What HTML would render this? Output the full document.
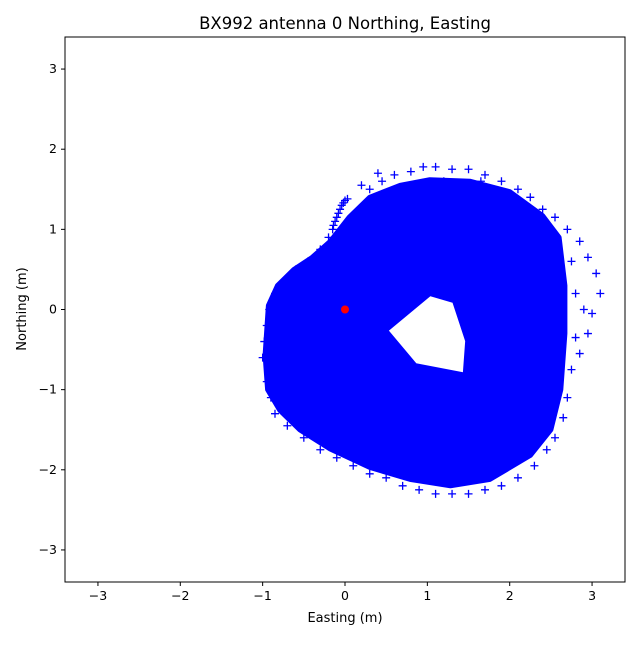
<!DOCTYPE html>
<html><head><meta charset="utf-8"><style>
body{margin:0;background:#fff;font-family:"Liberation Sans","DejaVu Sans",sans-serif}
svg text{font-family:"DejaVu Sans","Liberation Sans",sans-serif}
</style></head><body>
<svg id="chart" width="640" height="640" xmlns="http://www.w3.org/2000/svg">
<rect width="640" height="640" fill="#fff"/>
<g id="plot"></g>
<rect x="65" y="37" width="560" height="545" fill="none" stroke="#000" stroke-width="1"/>
<g id="axes"></g>
<text x="345" y="29" text-anchor="middle" font-size="16.5">BX992 antenna 0 Northing, Easting</text>
<text x="345" y="622" text-anchor="middle" font-size="13">Easting (m)</text>
<text x="26" y="309" text-anchor="middle" font-size="13" transform="rotate(-90 26 309)">Northing (m)</text>
</svg>
<script>
const xTicks=[-3,-2,-1,0,1,2,3];
const yTicks=[-3,-2,-1,0,1,2,3];
const outerE=[-0.97,-0.93,-0.82,-0.62,-0.40,-0.18,0.05,0.30,0.67,1.03,1.52,2.00,2.40,2.60,2.67,2.67,2.62,2.50,2.25,1.76,1.28,0.79,0.30,-0.18,-0.55,-0.79,-0.94];
const outerN=[-0.57,0.05,0.30,0.50,0.65,0.85,1.15,1.40,1.55,1.62,1.60,1.47,1.17,0.90,0.30,-0.30,-1.00,-1.50,-1.82,-2.12,-2.20,-2.12,-1.97,-1.74,-1.50,-1.26,-1.00];
const holeE=[1.03,0.49,0.85,1.46,1.49,1.33];
const holeN=[0.20,-0.26,-0.70,-0.82,-0.39,0.11];
const fringeE=[3.1,3.05,2.95,2.85,2.7,3.0,2.95,2.85,2.75,2.9,2.8,2.75,2.8,2.7,2.65,2.55,2.45,
2.55,2.4,2.25,2.1,1.9,1.7,1.5,1.3,1.1,0.95,0.8,0.6,0.45,0.3,0.2,0.4,1.2,1.65,
2.3,2.1,1.9,1.7,1.5,1.3,1.1,0.9,0.7,0.5,0.3,0.1,-0.1,-0.3,-0.5,-0.7,-0.85,
-0.9,-0.95,-1.0,-0.98,-0.95,-0.92,-0.85,-0.75,-0.6,-0.45,-0.3,-0.2,
-0.15,-0.12,-0.08,-0.04,0,0.03,-0.14,-0.1,-0.06,-0.02];
const fringeN=[0.2,0.45,0.65,0.85,1.0,-0.05,-0.3,-0.55,-0.75,0.0,-0.35,0.6,0.2,-1.1,-1.35,-1.6,-1.75,
1.15,1.25,1.4,1.5,1.6,1.68,1.75,1.75,1.78,1.78,1.72,1.68,1.6,1.5,1.55,1.7,1.6,1.6,
-1.95,-2.1,-2.2,-2.25,-2.3,-2.3,-2.3,-2.25,-2.2,-2.1,-2.05,-1.95,-1.85,-1.75,-1.6,-1.45,-1.3,
-1.1,-0.9,-0.6,-0.4,-0.2,0.0,0.2,0.35,0.5,0.6,0.75,0.9,
1.0,1.1,1.2,1.3,1.36,1.38,1.05,1.15,1.25,1.33];
const originE=[0]; const originN=[0];

const X0=65,X1=625,Y0=37,Y1=582,XMIN=-3.4,XMAX=3.4,YMIN=-3.4,YMAX=3.4;
const sx=v=>X0+(v-XMIN)/(XMAX-XMIN)*(X1-X0);
const sy=v=>Y1-(v-YMIN)/(YMAX-YMIN)*(Y1-Y0);
const NS="http://www.w3.org/2000/svg";
const plot=document.getElementById('plot'),axes=document.getElementById('axes');
function mk(t,a,p){const e=document.createElementNS(NS,t);for(const k in a)e.setAttribute(k,a[k]);p.appendChild(e);return e;}
const ring=(E,N)=>E.map((e,i)=>(i?'L':'M')+sx(e).toFixed(1)+','+sy(N[i]).toFixed(1)).join('')+'Z';
const blob=mk('path',{d:ring(outerE,outerN)+ring(holeE,holeN),fill:'#0000ff','fill-rule':'evenodd',stroke:'#0000ff','stroke-width':5,'stroke-linejoin':'round'},plot);


fringeE.forEach((e,i)=>{const x=sx(e),y=sy(fringeN[i]);
 const m=mk('path',{d:`M${x-4},${y}H${x+4}M${x},${y-4}V${y+4}`,stroke:'#0000ff','stroke-width':1.3,fill:'none'},plot);
 
 });
originE.forEach((e,i)=>{const c=mk('circle',{cx:sx(e),cy:sy(originN[i]),r:4,fill:'#ff0000'},plot);
 
 });
xTicks.forEach(v=>{const x=sx(v);
 const l=mk('line',{x1:x,x2:x,y1:Y1,y2:Y1+4,stroke:'#000'},axes);
 
 
 const t=mk('text',{x:x,y:Y1+18,'text-anchor':'middle','font-size':12.5},axes);t.textContent=v<0?'\u2212'+(-v):v;
 
 });
yTicks.forEach(v=>{const y=sy(v);
 const l=mk('line',{x1:X0-4,x2:X0,y1:y,y2:y,stroke:'#000'},axes);
 
 
 const t=mk('text',{x:X0-8,y:y+4,'text-anchor':'end','font-size':12.5},axes);t.textContent=v<0?'\u2212'+(-v):v;
 
 });
</script>
</body></html>
